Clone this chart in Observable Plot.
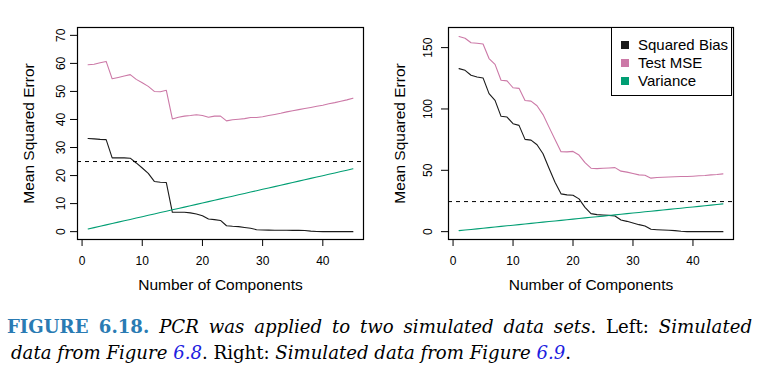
<!DOCTYPE html>
<html>
<head>
<meta charset="utf-8">
<script src="https://cdn.jsdelivr.net/npm/d3@7"></script>
<script src="https://cdn.jsdelivr.net/npm/@observablehq/plot@0.6"></script>
<style>
  html, body { margin: 0; padding: 0; background: #fff; }
  #wrap { position: relative; width: 767px; height: 370px; overflow: hidden; }
  #plots { position: absolute; left: 0; top: 0; display: flex; }
  #legend { position: absolute; left: 611px; top: 27px; width: 121px; height: 69px;
            border: 1px solid #000; background: #fff; box-sizing: border-box;
            font-family: "Liberation Sans", Arial, Helvetica, sans-serif; font-size: 15px; color: #000; }
  .item { position: absolute; left: 0; height: 18px; line-height: 18px; white-space: nowrap; }
  .sw { position: absolute; left: 9px; top: 5px; width: 8px; height: 8px; }
  .lab { position: absolute; left: 26px; top: 0; }
  #caption { position: absolute; left: 7px; top: 314px; width: 745px;
             font-family: "DejaVu Serif", "Liberation Serif", serif; font-size: 17px; line-height: 26px; color: #000; }
  #caption .l1 { text-align: justify; text-align-last: justify; white-space: nowrap; }
  #caption .l2 { white-space: nowrap; display: inline-block; }
  #caption .fig { color: #2a7bb3; font-weight: bold; }
  #caption .ref { color: #2020e0; font-style: italic; }
  #caption i { font-style: italic; }
</style>
</head>
<body>
<div id="wrap">
  <div id="plots"></div>
  <div id="legend"></div>
  <div id="caption">
    <div class="l1"><span class="fig">FIGURE 6.18.</span> <i>PCR was applied to two simulated data sets</i>. Left: <i>Simulated</i></div>
    <div class="l2"><i>data from Figure</i> <span class="ref">6.8</span>. Right: <i>Simulated data from Figure</i> <span class="ref">6.9</span>.</div>
  </div>
</div>
<script>
// ---- data ----
const components = d3.range(1, 46);
const seriesNames = ["Squared Bias", "Test MSE", "Variance"];
const seriesColors = ["#1a1a1a", "#cc79a7", "#009e73"];

const leftBias = [33.2,33.1,32.9,32.8,26.3,26.3,26.3,26.2,24.5,22.7,20.8,17.9,17.6,17.5,6.9,6.9,6.9,6.7,6.3,5.7,4.5,4.3,4.0,2.1,1.9,1.8,1.5,1.2,0.7,0.6,0.55,0.5,0.5,0.5,0.45,0.45,0.4,0.2,0.05,0,0,0,0,0,0];
const leftMSE = [59.5,59.7,60.2,60.7,54.5,55.0,55.5,56.0,54.3,53.1,51.8,50.0,49.9,50.4,40.2,40.8,41.2,41.4,41.7,41.4,40.8,41.2,41.2,39.5,39.9,40.1,40.3,40.7,40.7,41.0,41.4,41.8,42.2,42.7,43.1,43.5,43.9,44.3,44.7,45.1,45.6,46.0,46.5,47.0,47.6];
const leftVar = [0.95,1.44,1.93,2.41,2.90,3.39,3.88,4.36,4.85,5.34,5.83,6.31,6.80,7.29,7.78,8.26,8.75,9.24,9.73,10.21,10.70,11.19,11.68,12.16,12.65,13.14,13.63,14.11,14.60,15.09,15.58,16.06,16.55,17.04,17.53,18.01,18.50,18.99,19.48,19.96,20.45,20.94,21.43,21.91,22.40];
const leftIrreducible = 25;

const rightBias = [132.9,131.5,127.5,126.1,125.3,112.5,107.0,94.0,93.4,88.0,86.6,75.2,74.6,70.8,63.5,51.7,40.3,30.8,30.0,29.7,26.7,19.8,14.7,13.9,13.6,13.3,12.8,9.5,8.4,7.1,5.7,4.6,1.9,1.6,1.4,1.1,0.8,0.3,0,0,0,0,0,0,0];
const rightMSE = [159.0,157.6,154.0,153.6,152.9,141.1,136.3,123.4,122.9,117.3,116.8,106.9,106.4,102.6,95.4,85.2,75.2,65.1,65.0,65.4,62.4,56.2,51.7,51.4,51.7,51.9,52.2,49.3,48.5,47.4,46.3,46.0,43.6,44.1,44.4,44.6,44.8,44.9,45.0,45.2,45.5,45.8,46.3,46.6,47.1];
const rightVar = [0.80,1.30,1.79,2.29,2.78,3.28,3.77,4.27,4.76,5.26,5.75,6.25,6.75,7.24,7.74,8.23,8.73,9.22,9.72,10.21,10.71,11.21,11.70,12.20,12.69,13.19,13.68,14.18,14.67,15.17,15.66,16.16,16.66,17.15,17.65,18.14,18.64,19.13,19.63,20.12,20.62,21.12,21.61,22.11,22.60];
const rightIrreducible = 24.5;

const xTicks = [0, 10, 20, 30, 40];
const leftYTicks = [0, 10, 20, 30, 40, 50, 60, 70];
const rightYTicks = [0, 50, 100, 150];
const xTitle = "Number of Components";
const yTitle = "Mean Squared Error";

function tidy(bias, mse, variance) {
  const rows = [];
  [bias, mse, variance].forEach((arr, s) => {
    arr.forEach((v, i) => rows.push({k: components[i], value: v, series: seriesNames[s]}));
  });
  return rows;
}

function panel({rows, irreducible, yTicks, yDomain, width, marginLeft, marginRight, yTickPad}) {
  return Plot.plot({
    width, height: 300,
    marginLeft, marginRight, marginTop: 27, marginBottom: 61,
    style: {fontFamily: "'Liberation Sans', Arial, Helvetica, sans-serif", fontSize: "12px", color: "#000", background: "transparent", overflow: "visible"},
    x: {domain: [-0.76, 46.76]},
    y: {domain: yDomain},
    color: {domain: seriesNames, range: seriesColors},
    marks: [
      Plot.line(rows, {x: "k", y: "value", z: "series", stroke: "series", strokeWidth: 1.1}),
      Plot.ruleY([irreducible], {stroke: "#000", strokeWidth: 1, strokeDasharray: "4,4"}),
      Plot.frame({stroke: "#000", strokeWidth: 1.2}),
      Plot.axisX({ticks: xTicks, tickSize: 7, tickPadding: 10, label: null, fontSize: 12}),
      Plot.axisY({ticks: yTicks, tickSize: 7, tickPadding: yTickPad, tickRotate: -90, label: null, fontSize: 12}),
      Plot.text([xTitle], {text: d => d, frameAnchor: "bottom", lineAnchor: "middle", dy: 46, fontSize: 15.5}),
      Plot.text([yTitle], {text: d => d, frameAnchor: "left", textAnchor: "middle", dx: -48, rotate: -90, fontSize: 15.5})
    ]
  });
}

const left = panel({
  rows: tidy(leftBias, leftMSE, leftVar), irreducible: leftIrreducible,
  yTicks: leftYTicks, yDomain: [-2.8, 72.8], width: 383, marginLeft: 77, marginRight: 20, yTickPad: 6
});
const right = panel({
  rows: tidy(rightBias, rightMSE, rightVar), irreducible: rightIrreducible,
  yTicks: rightYTicks, yDomain: [-6.4, 166.4], width: 384, marginLeft: 65, marginRight: 34, yTickPad: 10
});
document.getElementById("plots").append(left, right);

// legend
const leg = document.getElementById("legend");
seriesNames.forEach((name, i) => {
  const it = document.createElement("div");
  it.className = "item";
  it.style.top = (8 + i * 17.8) + "px";
  it.style.width = "100%";
  const sw = document.createElement("span");
  sw.className = "sw";
  sw.style.background = seriesColors[i];
  const lb = document.createElement("span");
  lb.className = "lab";
  lb.textContent = name;
  it.append(sw, lb);
  leg.append(it);
});

// fit caption so its second line spans the same width as the reference
const cap = document.getElementById("caption");
const l2 = cap.querySelector(".l2");
const target = 560;
const w = l2.getBoundingClientRect().width;
if (w > 0) cap.style.fontSize = (17 * target / w).toFixed(2) + "px";
l2.style.paddingLeft = "4px";
</script>
</body>
</html>
